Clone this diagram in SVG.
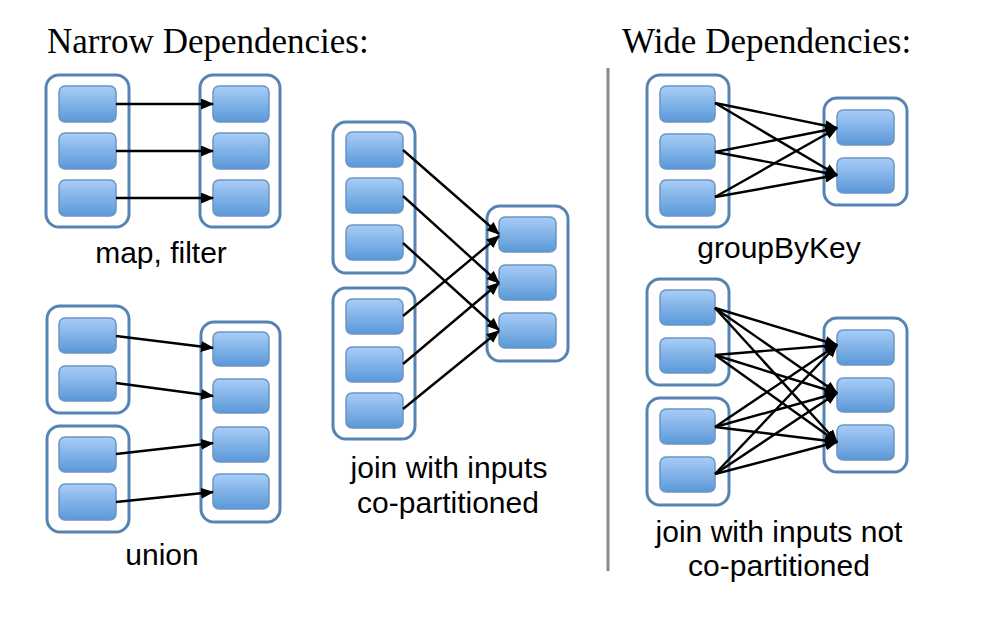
<svg xmlns="http://www.w3.org/2000/svg" width="1000" height="643" viewBox="0 0 1000 643">
<defs>
<linearGradient id="pg" x1="0" y1="0" x2="0" y2="1">
<stop offset="0" stop-color="#a8cdf7"/>
<stop offset="1" stop-color="#5a98d8"/>
</linearGradient>
<marker id="ah" markerUnits="userSpaceOnUse" markerWidth="13" markerHeight="11" refX="12" refY="5.5" orient="auto">
<path d="M0,0 L13,5.5 L0,11 z" fill="#000"/>
</marker>
</defs>
<style>
.c{fill:#fff;stroke:#5583b3;stroke-width:3}
.p{fill:url(#pg);stroke:#6b95c4;stroke-width:1.5}
.e{stroke:#000;stroke-width:2.4;fill:none;marker-end:url(#ah)}
.h{font-family:"Liberation Serif","Times New Roman",serif;font-size:35px;fill:#000}
.l{font-family:"Liberation Sans",Arial,sans-serif;font-size:30px;fill:#000;text-anchor:middle}
</style>
<rect width="1000" height="643" fill="#fff"/>
<text class="h" x="47" y="53">Narrow Dependencies:</text>
<text class="h" x="622" y="53">Wide Dependencies:</text>
<line x1="608" y1="68" x2="608" y2="571" stroke="#8a8a8a" stroke-width="3"/>

<!-- map, filter -->
<g id="mf-parent">
<rect class="c" x="46" y="75" width="83" height="152" rx="13"/>
<rect class="p" x="59" y="86" width="57" height="36" rx="6"/>
<rect class="p" x="59" y="133" width="57" height="36" rx="6"/>
<rect class="p" x="59" y="180" width="57" height="36" rx="6"/>
</g>
<g id="mf-child">
<rect class="c" x="200" y="75" width="80" height="152" rx="13"/>
<rect class="p" x="213" y="86" width="56" height="36" rx="6"/>
<rect class="p" x="213" y="133" width="56" height="36" rx="6"/>
<rect class="p" x="213" y="180" width="56" height="36" rx="6"/>
</g>

<!-- union -->
<g id="un-parent1">
<rect class="c" x="47" y="306" width="82" height="107" rx="13"/>
<rect class="p" x="59" y="318" width="57" height="35" rx="6"/>
<rect class="p" x="59" y="366" width="57" height="35" rx="6"/>
</g>
<g id="un-parent2">
<rect class="c" x="47" y="426" width="82" height="106" rx="13"/>
<rect class="p" x="59" y="437" width="57" height="35" rx="6"/>
<rect class="p" x="59" y="484" width="57" height="36" rx="6"/>
</g>
<g id="un-child">
<rect class="c" x="201" y="322" width="79" height="200" rx="13"/>
<rect class="p" x="213" y="332" width="56" height="34" rx="6"/>
<rect class="p" x="213" y="379" width="56" height="34" rx="6"/>
<rect class="p" x="213" y="427" width="56" height="35" rx="6"/>
<rect class="p" x="213" y="474" width="56" height="35" rx="6"/>
</g>

<!-- join co-partitioned -->
<g id="jc-parent1">
<rect class="c" x="333" y="122" width="82" height="151" rx="13"/>
<rect class="p" x="346" y="132" width="57" height="35" rx="6"/>
<rect class="p" x="346" y="178" width="57" height="35" rx="6"/>
<rect class="p" x="346" y="225" width="57" height="35" rx="6"/>
</g>
<g id="jc-parent2">
<rect class="c" x="333" y="288" width="82" height="151" rx="13"/>
<rect class="p" x="346" y="299" width="57" height="35" rx="6"/>
<rect class="p" x="346" y="347" width="57" height="35" rx="6"/>
<rect class="p" x="346" y="393" width="57" height="35" rx="6"/>
</g>
<g id="jc-child">
<rect class="c" x="487" y="206" width="81" height="155" rx="13"/>
<rect class="p" x="499" y="217" width="57" height="35" rx="6"/>
<rect class="p" x="499" y="265" width="57" height="35" rx="6"/>
<rect class="p" x="499" y="313" width="57" height="35" rx="6"/>
</g>

<!-- groupByKey -->
<g id="gb-parent">
<rect class="c" x="647" y="75" width="82" height="152" rx="13"/>
<rect class="p" x="660" y="86" width="55" height="36" rx="6"/>
<rect class="p" x="660" y="134" width="55" height="35" rx="6"/>
<rect class="p" x="660" y="180" width="55" height="36" rx="6"/>
</g>
<g id="gb-child">
<rect class="c" x="824" y="98" width="83" height="107" rx="13"/>
<rect class="p" x="837" y="110" width="57" height="35" rx="6"/>
<rect class="p" x="837" y="158" width="57" height="35" rx="6"/>
</g>

<!-- join not co-partitioned -->
<g id="jn-parent1">
<rect class="c" x="647" y="279" width="82" height="106" rx="13"/>
<rect class="p" x="660" y="290" width="55" height="35" rx="6"/>
<rect class="p" x="660" y="338" width="55" height="35" rx="6"/>
</g>
<g id="jn-parent2">
<rect class="c" x="647" y="398" width="82" height="107" rx="13"/>
<rect class="p" x="660" y="409" width="55" height="35" rx="6"/>
<rect class="p" x="660" y="457" width="55" height="35" rx="6"/>
</g>
<g id="jn-child">
<rect class="c" x="824" y="318" width="83" height="154" rx="13"/>
<rect class="p" x="837" y="330" width="57" height="35" rx="6"/>
<rect class="p" x="837" y="378" width="57" height="34" rx="6"/>
<rect class="p" x="837" y="425" width="57" height="35" rx="6"/>
</g>

<g id="connectors">
<line class="e" x1="116" y1="104" x2="213" y2="104"/>
<line class="e" x1="116" y1="151" x2="213" y2="151"/>
<line class="e" x1="116" y1="198" x2="213" y2="198"/>

<line class="e" x1="116" y1="336" x2="213" y2="348"/>
<line class="e" x1="116" y1="383" x2="213" y2="396"/>
<line class="e" x1="116" y1="454" x2="213" y2="443"/>
<line class="e" x1="116" y1="502" x2="213" y2="492"/>

<line class="e" x1="403" y1="150" x2="499" y2="234"/>
<line class="e" x1="403" y1="196" x2="499" y2="283"/>
<line class="e" x1="403" y1="243" x2="499" y2="330"/>
<line class="e" x1="403" y1="316" x2="499" y2="236"/>
<line class="e" x1="403" y1="364" x2="499" y2="283"/>
<line class="e" x1="403" y1="409" x2="499" y2="331"/>

<line class="e" x1="715" y1="103" x2="837" y2="128"/>
<line class="e" x1="715" y1="103" x2="837" y2="175"/>
<line class="e" x1="715" y1="152" x2="837" y2="128"/>
<line class="e" x1="715" y1="152" x2="837" y2="175"/>
<line class="e" x1="715" y1="197" x2="837" y2="128"/>
<line class="e" x1="715" y1="197" x2="837" y2="175"/>

<line class="e" x1="715" y1="308" x2="837" y2="345"/>
<line class="e" x1="715" y1="308" x2="837" y2="393"/>
<line class="e" x1="715" y1="308" x2="837" y2="442"/>
<line class="e" x1="715" y1="355" x2="837" y2="345"/>
<line class="e" x1="715" y1="355" x2="837" y2="393"/>
<line class="e" x1="715" y1="355" x2="837" y2="442"/>
<line class="e" x1="715" y1="427" x2="837" y2="345"/>
<line class="e" x1="715" y1="427" x2="837" y2="393"/>
<line class="e" x1="715" y1="427" x2="837" y2="442"/>
<line class="e" x1="715" y1="474" x2="837" y2="345"/>
<line class="e" x1="715" y1="474" x2="837" y2="393"/>
<line class="e" x1="715" y1="474" x2="837" y2="442"/>
</g>

<text class="l" x="161" y="263">map, filter</text>
<text class="l" x="162" y="565">union</text>
<text class="l" x="449" y="478">join with inputs</text>
<text class="l" x="448" y="513">co-partitioned</text>
<text class="l" x="779" y="258">groupByKey</text>
<text class="l" x="779" y="542">join with inputs not</text>
<text class="l" x="779" y="576">co-partitioned</text>
</svg>
